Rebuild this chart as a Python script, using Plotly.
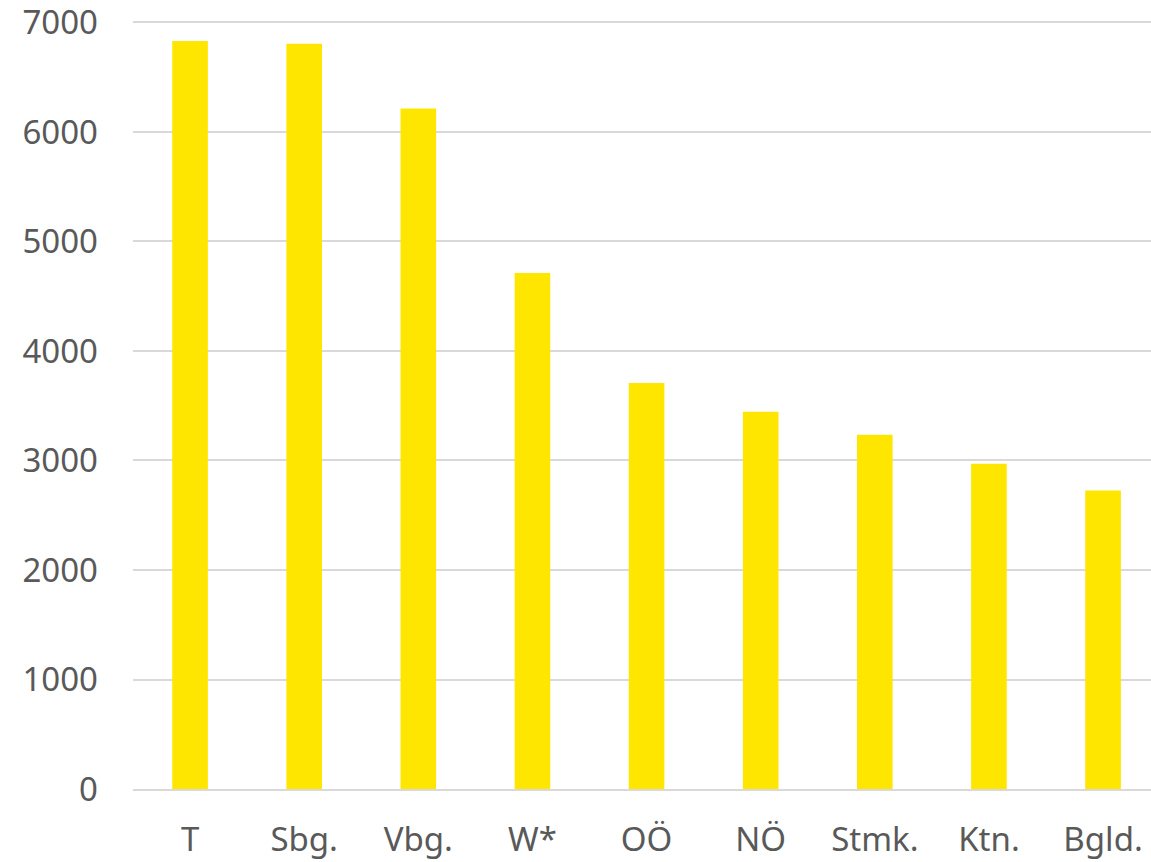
import plotly.graph_objects as go

categories = ["T", "Sbg.", "Vbg.", "W*", "OÖ", "NÖ", "Stmk.", "Ktn.", "Bgld."]
values = [6830, 6805, 6215, 4712, 3708, 3446, 3236, 2970, 2726]
y_ticks = [0, 1000, 2000, 3000, 4000, 5000, 6000, 7000]

fig = go.Figure(go.Bar(x=categories, y=values, marker=dict(color="#FFE600", line=dict(width=0)), width=0.312))

fig.update_layout(
    width=1151, height=862,
    margin=dict(l=133, r=0, t=16.5, b=73),
    plot_bgcolor="white", paper_bgcolor="white",
    font=dict(family="Noto Sans", size=33, color="#595959"),
    showlegend=False,
)
fig.update_yaxes(range=[0, 7050], tickvals=y_ticks, showgrid=True, gridcolor="#d9d9d9", gridwidth=2,
                 zeroline=False, showline=False, ticklabelstandoff=34, ticklabeloverflow="allow")
fig.update_xaxes(range=[-0.5, 8.42], showline=True, linecolor="#d9d9d9", linewidth=2,
                 ticklabelstandoff=20, showgrid=False)

fig.write_html("out.html")
